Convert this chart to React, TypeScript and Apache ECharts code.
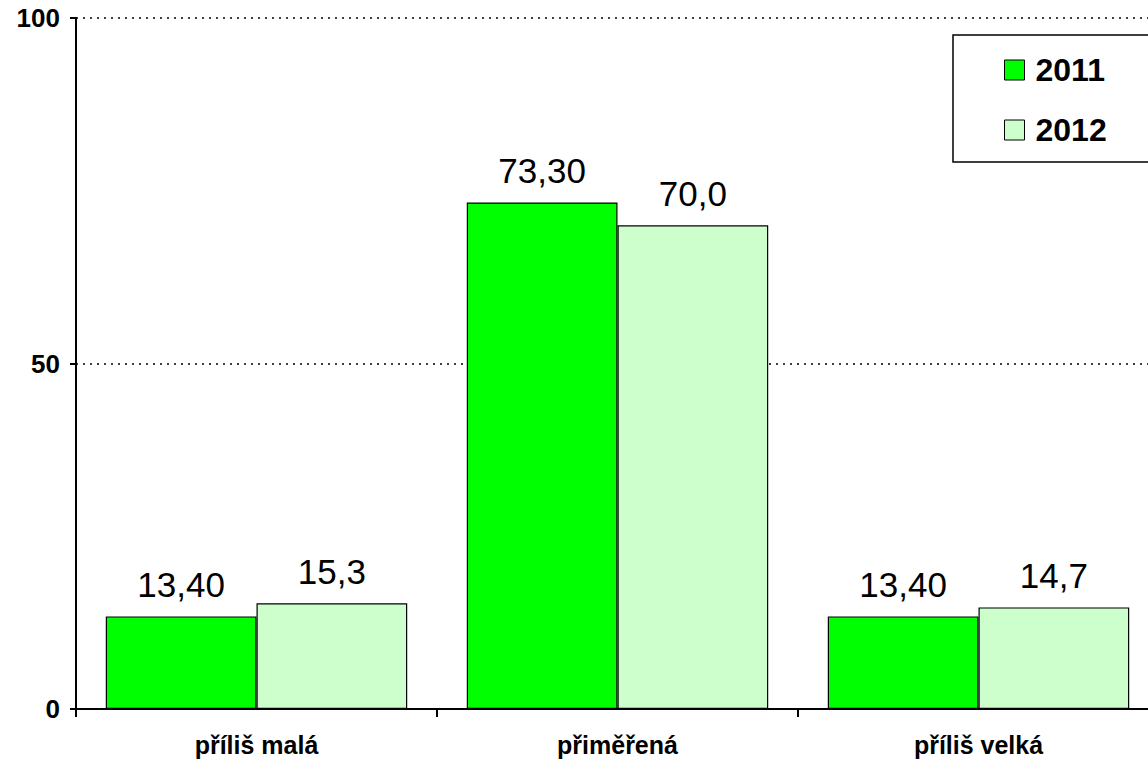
import React, { useEffect, useRef } from "react";
import * as echarts from "echarts";

const categories = ["příliš malá", "přiměřená", "příliš velká"];
const series2011 = [13.4, 73.3, 13.4];
const series2012 = [15.3, 70.0, 14.7];
const labels2011 = ["13,40", "73,30", "13,40"];
const labels2012 = ["15,3", "70,0", "14,7"];
const seriesNames = ["2011", "2012"];
const yTicks = [0, 50, 100];

const FONT = "Arial, Liberation Sans, sans-serif";

export default function App() {
  const ref = useRef<HTMLDivElement>(null);
  useEffect(() => {
    if (!ref.current) return;
    const chart = echarts.init(ref.current, undefined, { renderer: "svg" });
    const mkLabel = (arr: string[]) => ({
      show: true,
      position: "top",
      distance: 14,
      formatter: (p: any) => arr[p.dataIndex],
      color: "#000",
      fontSize: 35,
      fontFamily: FONT,
    });
    chart.setOption({
      animation: false,
      backgroundColor: "#fff",
      grid: { left: 76, top: 18, bottom: 50, right: 11, containLabel: false },
      legend: {
        orient: "vertical",
        left: 953,
        top: 35,
        data: seriesNames,
        icon: "rect",
        itemWidth: 20,
        itemHeight: 20,
        itemGap: 28,
        padding: [19, 90, 16, 51],
        borderColor: "#000",
        borderWidth: 1.5,
        backgroundColor: "#fff",
        itemStyle: { borderColor: "#000", borderWidth: 1 },
        textStyle: {
          fontSize: 32,
          fontWeight: "bold",
          fontFamily: FONT,
          color: "#000",
          padding: [0, 0, 0, 6],
        },
      },
      xAxis: {
        type: "category",
        data: categories,
        axisLine: { show: true, lineStyle: { color: "#000", width: 2 } },
        axisTick: { show: true, length: 8, lineStyle: { color: "#000", width: 2 } },
        axisLabel: {
          fontSize: 25,
          fontWeight: "bold",
          fontFamily: FONT,
          color: "#000",
          margin: 23,
        },
      },
      yAxis: {
        type: "value",
        min: yTicks[0],
        max: yTicks[yTicks.length - 1],
        interval: 50,
        axisLine: { show: true, lineStyle: { color: "#000", width: 2 } },
        axisTick: { show: true, length: 6, lineStyle: { color: "#000", width: 2 } },
        axisLabel: {
          fontSize: 26,
          fontWeight: "bold",
          fontFamily: FONT,
          color: "#000",
          margin: 16,
        },
        splitLine: {
          show: true,
          lineStyle: { color: "#000", type: [2, 5], width: 1.5 },
        },
      },
      series: [
        {
          name: seriesNames[0],
          type: "bar",
          data: series2011,
          barGap: "0%",
          barCategoryGap: "16.5%",
          itemStyle: { color: "#00FF00", borderColor: "#000", borderWidth: 1.2 },
          label: mkLabel(labels2011),
        },
        {
          name: seriesNames[1],
          type: "bar",
          data: series2012,
          barGap: "0%",
          barCategoryGap: "16.5%",
          itemStyle: { color: "#CCFFCC", borderColor: "#000", borderWidth: 1.2 },
          label: mkLabel(labels2012),
        },
      ],
    });
    return () => chart.dispose();
  }, []);
  return (
    <div
      ref={ref}
      style={{ position: "fixed", left: 0, top: 0, width: 1170, height: 759 }}
    />
  );
}
